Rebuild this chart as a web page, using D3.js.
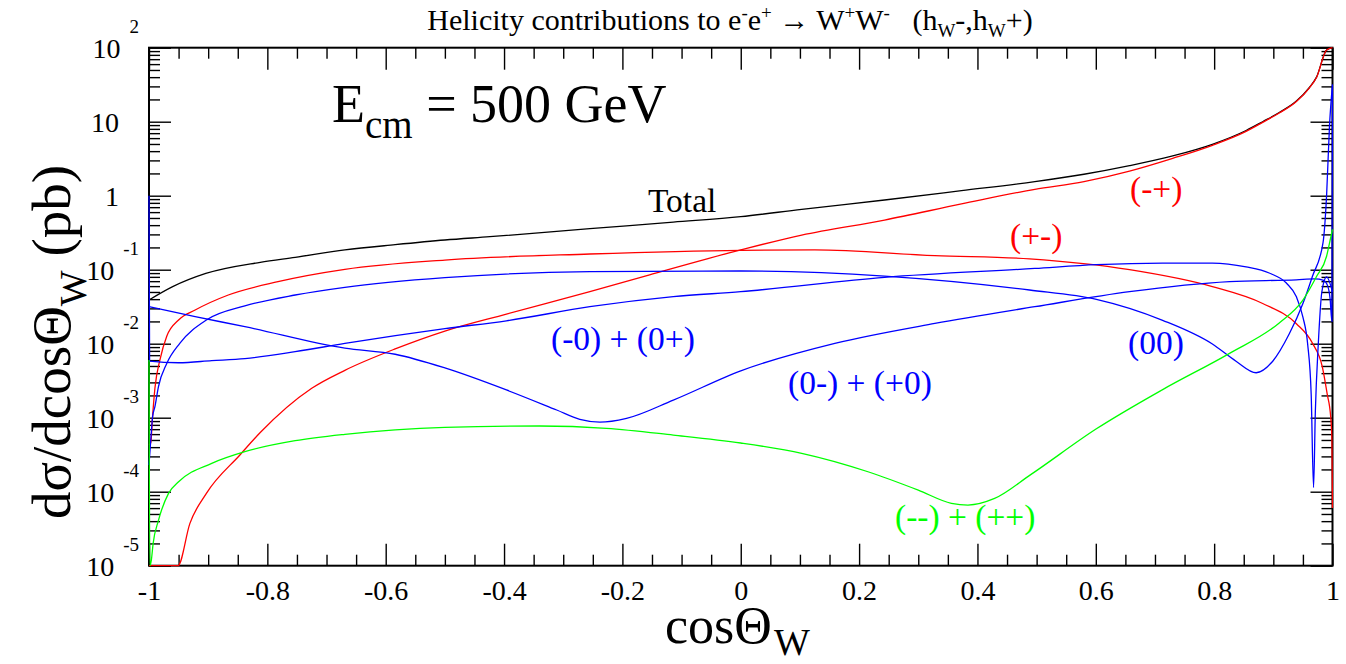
<!DOCTYPE html>
<html>
<head>
<meta charset="utf-8">
<script src="https://cdn.jsdelivr.net/npm/d3@7"></script>
<style>
  body { margin: 0; background: #fff; }
  svg text { font-family: "Liberation Serif", "Times New Roman", serif; }
</style>
</head>
<body>
<svg id="chart" width="1346" height="664"></svg>
<script>
// ---- axis ticks ----
const xMajorTicks = [-1, -0.8, -0.6, -0.4, -0.2, 0, 0.2, 0.4, 0.6, 0.8, 1];
const xTickLabels = ["-1", "-0.8", "-0.6", "-0.4", "-0.2", "0", "0.2", "0.4", "0.6", "0.8", "1"];
const yMajorTicks = [1e-5, 1e-4, 1e-3, 1e-2, 1e-1, 1, 10, 100];
const yTickBase = ["10", "10", "10", "10", "10", "1", "10", "10"];
const yTickExp = ["-5", "-4", "-3", "-2", "-1", "", "", "2"];

// ---- helicity contributions, dsigma/dcos(theta_W) in pb ----
// Total
const cosTotal = [-1, -0.96, -0.904, -0.812, -0.753, -0.669, -0.584, -0.5, -0.424, -0.255, -0.114, 0,
  0.103, 0.243, 0.373, 0.497, 0.58, 0.657, 0.73, 0.797, 0.854, 0.882, 0.91, 0.939, 0.961, 0.973, 0.99, 1];
const sigTotal = [0.039, 0.059, 0.089, 0.126, 0.147, 0.185, 0.218, 0.252, 0.279, 0.358, 0.44, 0.52,
  0.655, 0.875, 1.17, 1.55, 1.95, 2.55, 3.45, 4.95, 7.6, 10, 13.3, 19, 29, 40, 93, 200];
// (-+)
const cosMP = [-1, -0.951, -0.931, -0.903, -0.846, -0.812, -0.725, -0.669, -0.584, -0.5, -0.396, -0.255, -0.154, 0,
  0.103, 0.243, 0.373, 0.497, 0.58, 0.657, 0.73, 0.797, 0.854, 0.882, 0.91, 0.939, 0.961, 0.973, 0.99, 1];
const sigMP = [1e-6, 1e-5, 3.7e-5, 9.5e-5, 3.16e-4, 6.3e-4, 2.5e-3, 4.37e-3, 8.5e-3, 0.0148, 0.0251, 0.0505, 0.0853, 0.185,
  0.294, 0.469, 0.773, 1.22, 1.55, 2.15, 3.2, 4.8, 7.4, 9.8, 13.1, 18.8, 28.7, 39.6, 93, 200];
// (+-)
const cosPM = [-1, -0.997, -0.994, -0.99, -0.981, -0.97, -0.95, -0.922, -0.866, -0.782, -0.669, -0.5, -0.255, 0,
  0.125, 0.328, 0.488, 0.657, 0.797, 0.882, 0.939, 0.966, 0.983, 0.991, 0.997, 0.999, 1];
const sigPM = [4.3e-4, 4.6e-4, 1.03e-3, 2.5e-3, 6.3e-3, 0.0126, 0.0209, 0.0285, 0.0455, 0.0689, 0.101, 0.135, 0.163, 0.183,
  0.185, 0.155, 0.14, 0.1, 0.059, 0.0349, 0.0186, 0.0102, 4.8e-3, 2.1e-3, 1.02e-3, 5e-4, 6e-5];
// (0-) + (+0)
const cosL0 = [-1, -0.922, -0.838, -0.669, -0.584, -0.5, -0.396, -0.311, -0.272, -0.238, -0.193, -0.114, 0,
  0.159, 0.328, 0.497, 0.657, 0.826, 0.939, 0.97, 0.985, 0.992, 0.996, 0.999, 1];
const sigL0 = [0.0316, 0.0232, 0.017, 8.7e-3, 7.2e-3, 4.7e-3, 2.37e-3, 1.27e-3, 9.5e-4, 8.7e-4, 9.8e-4, 1.73e-3, 4.3e-3,
  0.0101, 0.0188, 0.0316, 0.0505, 0.069, 0.073, 0.075, 0.072, 0.06, 0.04, 0.02, 30];
// (00)
const cos00 = [-1, -0.996, -0.994, -0.99, -0.984, -0.97, -0.948, -0.903, -0.838, -0.753, -0.669, -0.5, -0.255, 0,
  0.243, 0.488, 0.601, 0.713, 0.797, 0.837, 0.871, 0.899, 0.927, 0.95, 0.966, 0.984, 0.99, 0.995, 1];
const sig00 = [2.3e-4, 6.5e-4, 1.02e-3, 1.41e-3, 2.63e-3, 5.4e-3, 0.0101, 0.0209, 0.0324, 0.0455, 0.0578, 0.078, 0.094, 0.096,
  0.082, 0.0532, 0.0398, 0.0207, 9.9e-3, 5.8e-3, 4.05e-3, 5.8e-3, 0.0136, 0.0349, 0.081, 0.232, 1.0, 9, 32];
// (-0) + (0+)
const cos0L = [-1, -0.999, -0.95, -0.894, -0.838, -0.753, -0.669, -0.5, -0.396, -0.255, -0.114, 0,
  0.243, 0.497, 0.601, 0.713, 0.797, 0.854, 0.893, 0.922, 0.939, 0.95, 0.958, 0.964, 0.968, 0.971, 0.976, 0.982, 0.99, 1];
const sig0L = [1.0, 5.8e-3, 5.53e-3, 5.9e-3, 6.3e-3, 7.8e-3, 0.0101, 0.016, 0.0204, 0.0316, 0.0432, 0.0505,
  0.0789, 0.104, 0.117, 0.123, 0.123, 0.109, 0.0902, 0.066, 0.043, 0.0229, 9.9e-3, 2.04e-3, 1.14e-4, 1.2e-3, 0.01, 0.05, 0.08, 0.05];
// (--) + (++)
const cosTT = [-1, -0.9985, -0.996, -0.993, -0.984, -0.967, -0.95, -0.894, -0.838, -0.753, -0.669, -0.5, -0.34, -0.227, -0.114, 0,
  0.103, 0.215, 0.3, 0.356, 0.384, 0.429, 0.49, 0.601, 0.713, 0.826, 0.91, 0.95, 0.973, 0.99, 0.996, 1];
const sigTT = [6e-3, 5e-6, 1.2e-5, 2e-5, 4.1e-5, 9.5e-5, 1.36e-4, 2.42e-4, 3.48e-4, 4.89e-4, 5.97e-4, 7.41e-4, 7.73e-4, 7.19e-4, 5.83e-4, 4.55e-4,
  3.3e-4, 1.86e-4, 1.05e-4, 6.97e-5, 6.6e-5, 8.1e-5, 1.7e-4, 7.08e-4, 2.4e-3, 7.41e-3, 0.0191, 0.0388, 0.0809, 0.152, 0.25, 0.352];

const series = [
  { cos: cosTotal, sig: sigTotal, color: "#000000" },
  { cos: cosMP, sig: sigMP, color: "#ff0000" },
  { cos: cosPM, sig: sigPM, color: "#ff0000" },
  { cos: cosL0, sig: sigL0, color: "#0000ff" },
  { cos: cos00, sig: sig00, color: "#0000ff" },
  { cos: cos0L, sig: sig0L, color: "#0000ff" },
  { cos: cosTT, sig: sigTT, color: "#00ff00" }
];

// ---- layout ----
const L = 149, R = 1332.5, T = 47.7, B = 565.7;
const svg = d3.select("#chart");
const x = d3.scaleLinear().domain([-1, 1]).range([L, R]);
const y = d3.scaleLog().domain([1e-5, 1e2]).range([B, T]).clamp(true);

svg.append("defs").append("clipPath").attr("id", "plotclip")
  .append("rect").attr("x", L - 1).attr("y", T - 1).attr("width", R - L + 2).attr("height", B - T + 2);

// ticks (pointing inward on all four sides)
const xMinor = d3.range(-1, 1.0001, 0.05).map(v => +v.toFixed(2)).filter(v => !xMajorTicks.includes(v));
const yMinor = [];
for (let e = -5; e < 2; e++) for (let m = 2; m <= 9; m++) yMinor.push(m * Math.pow(10, e));

function styleAxis(g) {
  g.select(".domain").remove();
  g.selectAll(".tick line").attr("stroke", "#000").attr("stroke-width", 1.4);
  g.attr("font-family", null).attr("font-size", null);
}
const MAJ = 22, MIN = 11;
svg.append("g").attr("transform", `translate(0,${B})`)
  .call(d3.axisBottom(x).tickValues(xMajorTicks).tickSizeInner(-MAJ).tickSizeOuter(0).tickPadding(14)
    .tickFormat((d, i) => xTickLabels[i]))
  .call(styleAxis)
  .selectAll("text").attr("font-size", 28).attr("fill", "#000");
svg.append("g").attr("transform", `translate(0,${B})`)
  .call(d3.axisBottom(x).tickValues(xMinor).tickSize(-MIN).tickFormat("")).call(styleAxis);
svg.append("g").attr("transform", `translate(0,${T})`)
  .call(d3.axisTop(x).tickValues(xMajorTicks).tickSize(-MAJ).tickFormat("")).call(styleAxis);
svg.append("g").attr("transform", `translate(0,${T})`)
  .call(d3.axisTop(x).tickValues(xMinor).tickSize(-MIN).tickFormat("")).call(styleAxis);
svg.append("g").attr("transform", `translate(${L},0)`)
  .call(d3.axisLeft(y).tickValues(yMajorTicks).tickSize(-MAJ).tickFormat("")).call(styleAxis);
svg.append("g").attr("transform", `translate(${L},0)`)
  .call(d3.axisLeft(y).tickValues(yMinor).tickSize(-MIN).tickFormat("")).call(styleAxis);
svg.append("g").attr("transform", `translate(${R},0)`)
  .call(d3.axisRight(y).tickValues(yMajorTicks).tickSize(-MAJ).tickFormat("")).call(styleAxis);
svg.append("g").attr("transform", `translate(${R},0)`)
  .call(d3.axisRight(y).tickValues(yMinor).tickSize(-MIN).tickFormat("")).call(styleAxis);

// frame
svg.append("rect").attr("x", L).attr("y", T).attr("width", R - L).attr("height", B - T)
  .attr("fill", "none").attr("stroke", "#000").attr("stroke-width", 2);

// curves, drawn over the frame so the edge segments stay visible
const line = d3.line().x(d => x(d[0])).y(d => y(d[1])).curve(d3.curveMonotoneX);
const curves = svg.append("g").attr("clip-path", "url(#plotclip)");
series.forEach(s => {
  curves.append("path")
    .datum(s.cos.map((c, i) => [c, s.sig[i]]))
    .attr("d", line)
    .attr("fill", "none")
    .attr("stroke", s.color)
    .attr("stroke-width", 1.3);
});

// y tick labels: 10 with superscript exponent
const yLab = svg.append("g");
yMajorTicks.forEach((v, i) => {
  const ty = y(v);
  if (yTickExp[i] === "") {
    yLab.append("text").attr("x", 119).attr("y", ty + 10.5).attr("text-anchor", "end")
      .attr("font-size", 28).text(yTickBase[i]);
  } else {
    const ex = yLab.append("text").attr("x", 139).attr("y", ty - 15).attr("text-anchor", "end")
      .attr("font-size", 19).text(yTickExp[i]);
    const w = ex.node().getComputedTextLength();
    yLab.append("text").attr("x", 139 - w - 9).attr("y", ty + 10.5).attr("text-anchor", "end")
      .attr("font-size", 28).text(yTickBase[i]);
  }
});

// title
const title = svg.append("text").attr("x", 730).attr("y", 30).attr("text-anchor", "middle")
  .attr("font-size", 30);
title.append("tspan").text("Helicity contributions to e");
title.append("tspan").attr("font-size", 19).attr("dy", -11).text("-");
title.append("tspan").attr("dy", 11).text("e");
title.append("tspan").attr("font-size", 19).attr("dy", -11).text("+");
title.append("tspan").attr("dy", 11).text(" \u2192 W");
title.append("tspan").attr("font-size", 19).attr("dy", -11).text("+");
title.append("tspan").attr("dy", 11).text("W");
title.append("tspan").attr("font-size", 19).attr("dy", -11).text("-");
title.append("tspan").attr("dy", 11).text("\u00a0\u00a0\u00a0(h");
title.append("tspan").attr("font-size", 19).attr("dy", 7).text("W");
title.append("tspan").attr("dy", -7).text("-,h");
title.append("tspan").attr("font-size", 19).attr("dy", 7).text("W");
title.append("tspan").attr("dy", -7).text("+)");

// energy annotation
const ecm = svg.append("text").attr("x", 332).attr("y", 122).attr("font-size", 54);
ecm.append("tspan").text("E");
ecm.append("tspan").attr("font-size", 39).attr("dy", 16).text("cm");
ecm.append("tspan").attr("dy", -16).text(" = 500 GeV");

// axis titles
const xt = svg.append("text").attr("x", 665).attr("y", 643).attr("font-size", 52);
xt.append("tspan").text("cos\u0398");
xt.append("tspan").attr("font-size", 38).attr("dx", 2).attr("dy", 12).text("W");

const yt = svg.append("text").attr("transform", "translate(70,342) rotate(-90)")
  .attr("text-anchor", "middle").attr("font-size", 55);
yt.append("tspan").text("d\u03c3/dcos\u0398");
yt.append("tspan").attr("font-size", 38).attr("dy", 16).text("W");
yt.append("tspan").attr("dy", -16).text(" (pb)");

// curve labels
const curveLabels = [
  { text: "Total", x: 648, y: 212, color: "#000000" },
  { text: "(-+)", x: 1130, y: 200, color: "#ff0000" },
  { text: "(+-)", x: 1010, y: 247, color: "#ff0000" },
  { text: "(-0) + (0+)", x: 551, y: 350, color: "#0000ff" },
  { text: "(0-) + (+0)", x: 788, y: 394, color: "#0000ff" },
  { text: "(00)", x: 1128, y: 354, color: "#0000ff" },
  { text: "(--) + (++)", x: 895, y: 528, color: "#00ff00" }
];
svg.append("g").selectAll("text").data(curveLabels).join("text")
  .attr("x", d => d.x).attr("y", d => d.y).attr("fill", d => d.color)
  .attr("font-size", 33.5).text(d => d.text);
</script>
</body>
</html>
